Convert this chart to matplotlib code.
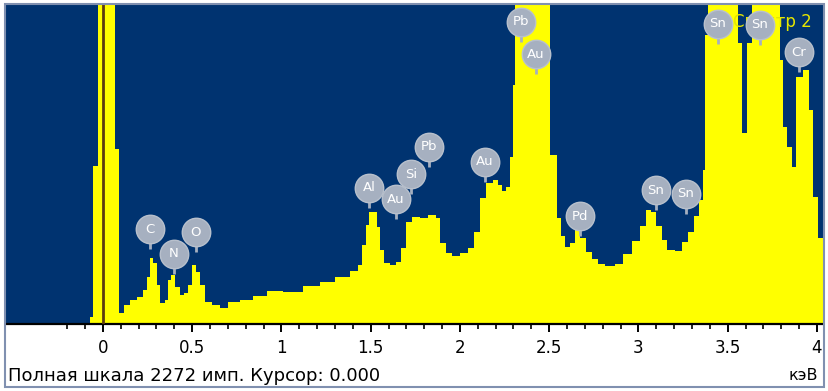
import numpy as np
import matplotlib.pyplot as plt
from matplotlib.patches import Rectangle

# Values of 2400 stand for channels that go off the top of the scale.
energy_kev = [-0.543, -0.073, -0.056, -0.028, 0.067, 0.090, 0.118, 0.151, 0.190, 0.224,
              0.247, 0.263, 0.280, 0.303, 0.319, 0.347, 0.364, 0.381, 0.403, 0.431,
              0.454, 0.476, 0.499, 0.521, 0.543, 0.571, 0.611, 0.655, 0.700, 0.768,
              0.840, 0.919, 1.008, 1.120, 1.216, 1.300, 1.384, 1.429, 1.451, 1.473,
              1.490, 1.535, 1.552, 1.574, 1.608, 1.641, 1.669, 1.697, 1.731, 1.776,
              1.821, 1.866, 1.888, 1.922, 1.955, 2.000, 2.045, 2.078, 2.112, 2.146,
              2.185, 2.213, 2.235, 2.258, 2.280, 2.297, 2.308, 2.504, 2.543, 2.566,
              2.588, 2.616, 2.644, 2.672, 2.706, 2.739, 2.773, 2.812, 2.868, 2.913,
              2.964, 3.008, 3.042, 3.070, 3.098, 3.132, 3.160, 3.204, 3.244, 3.277,
              3.311, 3.339, 3.361, 3.373, 3.389, 3.557, 3.580, 3.608, 3.636, 3.793,
              3.810, 3.832, 3.860, 3.882, 3.922, 3.955, 3.978, 4.006, 4.034]
counts = [0, 50, 1125, 2400, 1246, 78, 135, 171, 192, 242,
          335, 470, 434, 278, 150, 171, 313, 349, 263, 206,
          221, 278, 420, 370, 278, 157, 135, 114, 157, 171,
          199, 235, 228, 270, 299, 335, 377, 420, 562, 705,
          797, 691, 527, 434, 420, 441, 541, 726, 762, 755,
          776, 755, 577, 506, 484, 506, 541, 655, 897, 1004,
          1025, 990, 947, 975, 1189, 1702, 2400, 1203, 755, 627,
          548, 577, 669, 612, 513, 463, 427, 413, 427, 498,
          591, 698, 812, 797, 698, 598, 527, 520, 584, 655,
          769, 883, 1096, 2058, 2400, 2001, 1360, 2001, 2400, 1880,
          1403, 1260, 1118, 1759, 1808, 1524, 904, 612, 612]

# element markers: symbol, energy, height of the bubble centre
marker_names = ["C", "N", "O", "Al", "Au", "Si", "Pb", "Au", "Pb", "Au",
                "Pd", "Sn", "Sn", "Sn", "Sn", "Cr"]
marker_kev = [0.263, 0.398, 0.521, 1.490, 1.641, 1.725, 1.826, 2.140, 2.342, 2.426,
              2.672, 3.098, 3.266, 3.445, 3.681, 3.899]
marker_counts = [676, 499, 655, 969, 890, 1068, 1261, 1154, 2151, 1923,
                 769, 954, 926, 2137, 2130, 1937]

full_scale = 2272
cursor = 0.000
tick_values = [0, 0.5, 1, 1.5, 2, 2.5, 3, 3.5, 4]
tick_labels = ["0", "0.5", "1", "1.5", "2", "2.5", "3", "3.5", "4"]

navy = "#003370"
yellow = "#ffff00"
bubble = "#a6b0c0"

W, H = 829, 391
fig = plt.figure(figsize=(W / 100, H / 100), dpi=100)
fig.patch.set_facecolor("white")
ax = fig.add_axes([6 / W, (H - 324) / H, 817 / W, 319 / H])
ax.set_facecolor(navy)

ax.fill_between(energy_kev, counts, step="post", color=yellow, linewidth=0, zorder=2)
ax.axvline(cursor, color="#5c3c10", lw=2.0, zorder=3)

ax.set_xlim(-0.543, 4.034)
ax.set_ylim(0, full_scale)

px = full_scale / 319.0  # counts per screen pixel

# spectrum name sits under the bubbles, as on the screen
ax.text(3.972, full_scale - 17 * px, "Спектр 2",
        color="#e6e600", fontsize=12, ha="right", va="center", zorder=4)

# bubbles with a short stem, like the analyser software draws them
r = 14 * px
for e, c in zip(marker_kev, marker_counts):
    ax.plot([e, e], [c - r - 6 * px, c], color=bubble, lw=2, zorder=5,
            solid_capstyle="butt")
ax.scatter(marker_kev, marker_counts, s=420, color=bubble, edgecolors="#b8c0cc",
           linewidths=1.0, zorder=6, clip_on=False)
for name, e, c in zip(marker_names, marker_kev, marker_counts):
    ax.text(e, c, name, color="white", fontsize=9.5, ha="center", va="center",
            zorder=7)

for side in ["left", "right", "top"]:
    ax.spines[side].set_visible(False)
ax.spines["bottom"].set_linewidth(1.6)
ax.spines["bottom"].set_color("black")
ax.set_yticks([])
ax.set_xticks(tick_values)
ax.set_xticklabels(tick_labels)
ax.set_xticks(np.round(np.arange(-0.2, 4.01, 0.1), 2), minor=True)
ax.tick_params(axis="x", which="major", direction="out", length=6, width=1.4,
               labelsize=12, pad=5, colors="black")
ax.tick_params(axis="x", which="minor", direction="out", length=3.5, width=1.2)

fig.text(8 / W, 1 - 376 / H, f"Полная шкала {full_scale} имп. Курсор: {cursor:.3f}",
         fontsize=13, ha="left", va="center")
fig.text(818 / W, 1 - 376 / H, "кэВ", fontsize=11.5, ha="right", va="center")

fig.patches.append(Rectangle((5 / W, 1 - 387 / H), 819 / W, 383 / H,
                             transform=fig.transFigure, fill=False,
                             edgecolor="#8090b0", lw=1.5))

fig.savefig("out.png", dpi=100)
